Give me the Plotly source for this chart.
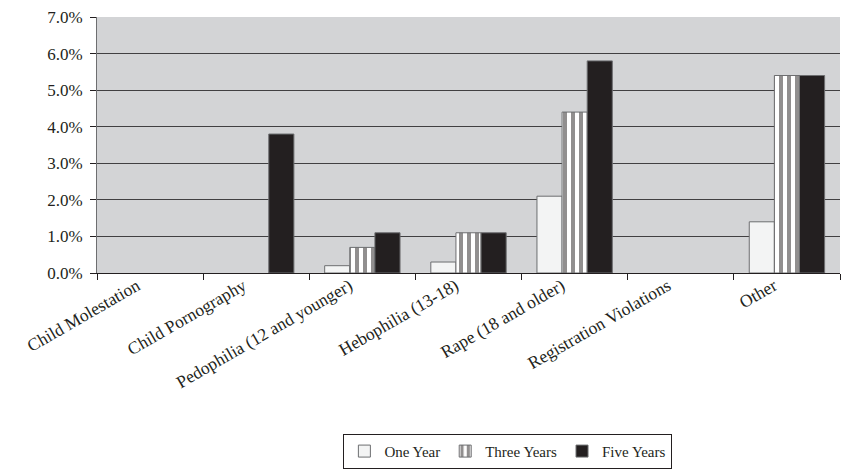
import plotly.graph_objects as go

categories = [
    "Child Molestation",
    "Child Pornography",
    "Pedophilia (12 and younger)",
    "Hebophilia (13-18)",
    "Rape (18 and older)",
    "Registration Violations",
    "Other",
]
one_year = [0.0, 0.0, 0.2, 0.3, 2.1, 0.0, 1.4]
three_years = [0.0, 0.0, 0.7, 1.1, 4.4, 0.0, 5.4]
five_years = [0.0, 3.8, 1.1, 1.1, 5.8, 0.0, 5.4]
y_ticks = [0, 1, 2, 3, 4, 5, 6, 7]

font_family = "Liberation Serif, Times New Roman, serif"
edge = dict(color="#6d6e70", width=1)


def nonzero(values):
    # zero-rate categories get no bar at all (no outline sliver on the axis)
    return [v if v > 0 else None for v in values]


fig = go.Figure()
fig.add_trace(go.Bar(
    name="One Year", x=categories, y=nonzero(one_year),
    marker=dict(color="#f3f4f4", line=edge),
))
fig.add_trace(go.Bar(
    name="Three Years", x=categories, y=nonzero(three_years),
    marker=dict(
        color="white", line=edge,
        pattern=dict(shape="|", fgcolor="#231f20", bgcolor="white",
                     size=8, solidity=0.5, fillmode="overlay"),
    ),
))
fig.add_trace(go.Bar(
    name="Five Years", x=categories, y=nonzero(five_years),
    marker=dict(color="#231f20", line=edge),
))

fig.update_layout(
    width=846, height=472,
    margin=dict(l=97, r=6, t=17, b=199, autoexpand=False),
    paper_bgcolor="white",
    plot_bgcolor="#d3d4d6",
    barmode="group",
    bargap=0.29,
    bargroupgap=0,
    font=dict(family=font_family, size=17, color="#231f20"),
    legend=dict(
        orientation="h",
        x=0.553, xanchor="center",
        y=-0.765, yanchor="bottom",
        bordercolor="#231f20", borderwidth=1,
        font=dict(size=15),
        itemwidth=30,
        traceorder="normal",
        tracegroupgap=0,
    ),
)
fig.update_xaxes(
    type="category",
    automargin=False,
    tickangle=-30,
    ticks="outside", tickson="boundaries", ticklen=6,
    tickcolor="#231f20",
    ticklabelshift=-13,
    ticklabelstandoff=-5,
    showline=True, linecolor="#231f20", linewidth=1,
    showgrid=False,
    tickfont=dict(size=17.5),
)
fig.update_yaxes(
    automargin=False,
    range=[0, 7],
    tickvals=y_ticks,
    ticktext=[f"{v:.1f}%" for v in y_ticks],
    ticks="outside", ticklen=6, tickcolor="#231f20",
    ticklabelstandoff=4,
    showline=True, linecolor="#6d6e70", linewidth=1,
    showgrid=True, gridcolor="#414042", gridwidth=1,
    zeroline=False,
    tickfont=dict(size=17),
)

fig.write_html("out.html")
